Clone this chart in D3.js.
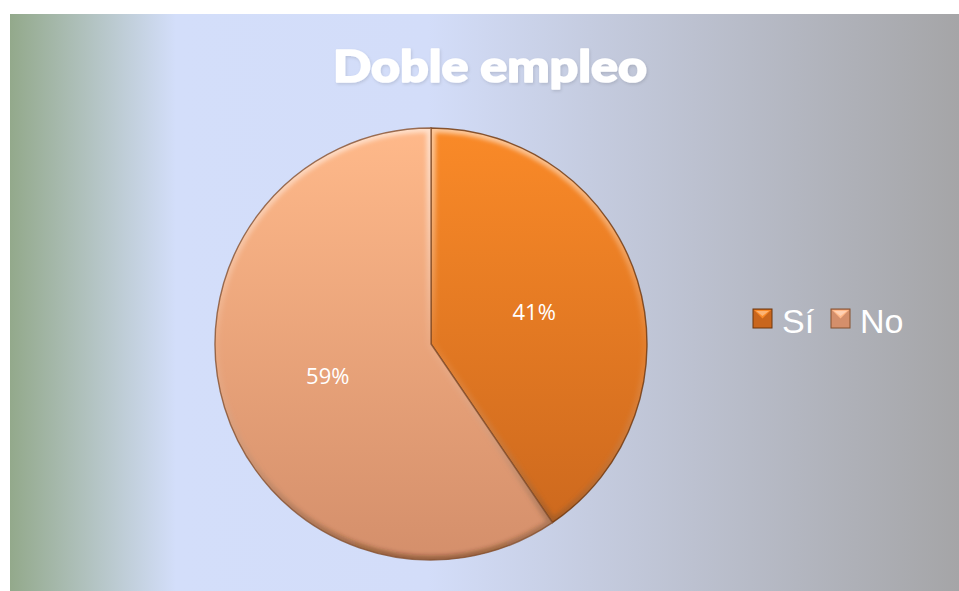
<!DOCTYPE html>
<html>
<head>
<meta charset="utf-8">
<script src="https://cdn.jsdelivr.net/npm/d3@7"></script>
<style>
  html, body { margin: 0; padding: 0; background: #fff; }
  svg { display: block; }
</style>
</head>
<body>
<div id="chart"></div>
<script>
const categories = ["Sí", "No"];
const values = [40.5, 59.5];
const labels = ["41%", "59%"];
const title = "Doble empleo";

const width = 959;
const height = 591;
const cx = 431;
const cy = 344;
const radius = 216;

// top / bottom shades of each slice
const colors = {
  "Sí": { top: "#fa8a28", bottom: "#c9661d", edge: "#6e360c" },
  "No": { top: "#ffb98a", bottom: "#d48f6b", edge: "#85502f" }
};

const svg = d3.select("#chart")
  .append("svg")
  .attr("width", width)
  .attr("height", height);

const defs = svg.append("defs");

// background gradient
const bg = defs.append("linearGradient")
  .attr("id", "bg")
  .attr("x1", "0").attr("x2", "1").attr("y1", "0").attr("y2", "0");
bg.append("stop").attr("offset", "0").attr("stop-color", "#93a98b");
bg.append("stop").attr("offset", "0.175").attr("stop-color", "#d3defa");
bg.append("stop").attr("offset", "0.44").attr("stop-color", "#d3ddf9");
bg.append("stop").attr("offset", "1").attr("stop-color", "#a5a5a7");

svg.append("rect")
  .attr("x", 10)
  .attr("y", 14)
  .attr("width", width - 10)
  .attr("height", height - 14)
  .attr("fill", "url(#bg)");

categories.forEach((c, i) => {
  const g = defs.append("linearGradient")
    .attr("id", "fill" + i)
    .attr("gradientUnits", "userSpaceOnUse")
    .attr("x1", 0).attr("x2", 0)
    .attr("y1", -radius).attr("y2", radius);
  g.append("stop").attr("offset", "0").attr("stop-color", colors[c].top);
  g.append("stop").attr("offset", "1").attr("stop-color", colors[c].bottom);
});

// bevel light: light on top, dark on bottom
const bevel = defs.append("linearGradient")
  .attr("id", "bevel")
  .attr("gradientUnits", "userSpaceOnUse")
  .attr("x1", 0).attr("x2", 0)
  .attr("y1", -radius).attr("y2", radius);
bevel.append("stop").attr("offset", "0").attr("stop-color", "#fff").attr("stop-opacity", 0.55);
bevel.append("stop").attr("offset", "0.5").attr("stop-color", "#fff").attr("stop-opacity", 0.05);
bevel.append("stop").attr("offset", "1").attr("stop-color", "#3a1a00").attr("stop-opacity", 0.4);

defs.append("filter")
  .attr("id", "soft")
  .append("feGaussianBlur")
  .attr("stdDeviation", 2);

const shadow = defs.append("filter")
  .attr("id", "tshadow")
  .attr("x", "-10%").attr("y", "-30%")
  .attr("width", "120%").attr("height", "160%");
shadow.append("feDropShadow")
  .attr("dx", 1).attr("dy", 1.5)
  .attr("stdDeviation", 1.5)
  .attr("flood-color", "#000")
  .attr("flood-opacity", 0.12);

// Title
svg.append("text")
  .attr("x", 490)
  .attr("y", 82)
  .attr("text-anchor", "middle")
  .attr("font-family", "'Arial Black', Lato, Roboto, 'Liberation Sans', sans-serif")
  .attr("font-weight", 900)
  .attr("font-size", 43)
  .attr("textLength", 314)
  .attr("lengthAdjust", "spacingAndGlyphs")
  .attr("fill", "#fff")
  .attr("stroke", "#fff")
  .attr("stroke-width", 1.6)
  .attr("stroke-linejoin", "round")
  .attr("filter", "url(#tshadow)")
  .text(title);

// Pie
const pie = d3.pie().sort(null).value(d => d);
const arcs = pie(values);
const arc = d3.arc().innerRadius(0).outerRadius(radius);

const pieG = svg.append("g")
  .attr("transform", `translate(${cx},${cy})`);

arcs.forEach((a, i) => {
  const c = categories[i];
  defs.append("clipPath")
    .attr("id", "clip" + i)
    .append("path")
    .attr("d", arc(a));

  const s = pieG.append("g");
  s.append("path")
    .attr("d", arc(a))
    .attr("fill", `url(#fill${i})`);

  // inner bevel
  s.append("g")
    .attr("clip-path", `url(#clip${i})`)
    .append("path")
    .attr("d", arc(a))
    .attr("fill", "none")
    .attr("stroke", "url(#bevel)")
    .attr("stroke-width", 9)
    .attr("filter", "url(#soft)");

  s.append("path")
    .attr("d", arc(a))
    .attr("fill", "none")
    .attr("stroke", colors[c].edge)
    .attr("stroke-opacity", 0.8)
    .attr("stroke-width", 1.4);
});

// Data labels
pieG.selectAll("text.lbl")
  .data(arcs)
  .enter()
  .append("text")
  .attr("class", "lbl")
  .attr("x", d => arc.centroid(d)[0])
  .attr("y", d => arc.centroid(d)[1])
  .attr("dy", "0.36em")
  .attr("text-anchor", "middle")
  .attr("font-family", "'Open Sans', sans-serif")
  .attr("font-size", 22)
  .attr("fill", "#fff")
  .text((d, i) => labels[i]);

// Legend
const legendX = [753, 831];
const legend = svg.append("g");
categories.forEach((c, i) => {
  const x = legendX[i];
  const y = 309;
  const size = 19;
  const lg = legend.append("g");
  lg.append("rect")
    .attr("x", x).attr("y", y)
    .attr("width", size).attr("height", size)
    .attr("fill", colors[c].bottom)
    .attr("stroke", colors[c].edge)
    .attr("stroke-width", 1);
  // lighter top facet
  lg.append("path")
    .attr("d", `M${x + 1},${y + 1}L${x + size - 1},${y + 1}L${x + size / 2},${y + size / 2}Z`)
    .attr("fill", colors[c].top);
  lg.append("path")
    .attr("d", `M${x + 3},${y + 2}L${x + size - 3},${y + 2}L${x + size / 2},${y + 7}Z`)
    .attr("fill", "#fff")
    .attr("fill-opacity", 0.35);
  lg.append("text")
    .attr("x", x + 29)
    .attr("y", y + 24)
    .attr("font-family", "'Liberation Sans', Arial, sans-serif")
    .attr("font-size", 34)
    .attr("fill", "#fff")
    .text(c);
});
</script>
</body>
</html>
